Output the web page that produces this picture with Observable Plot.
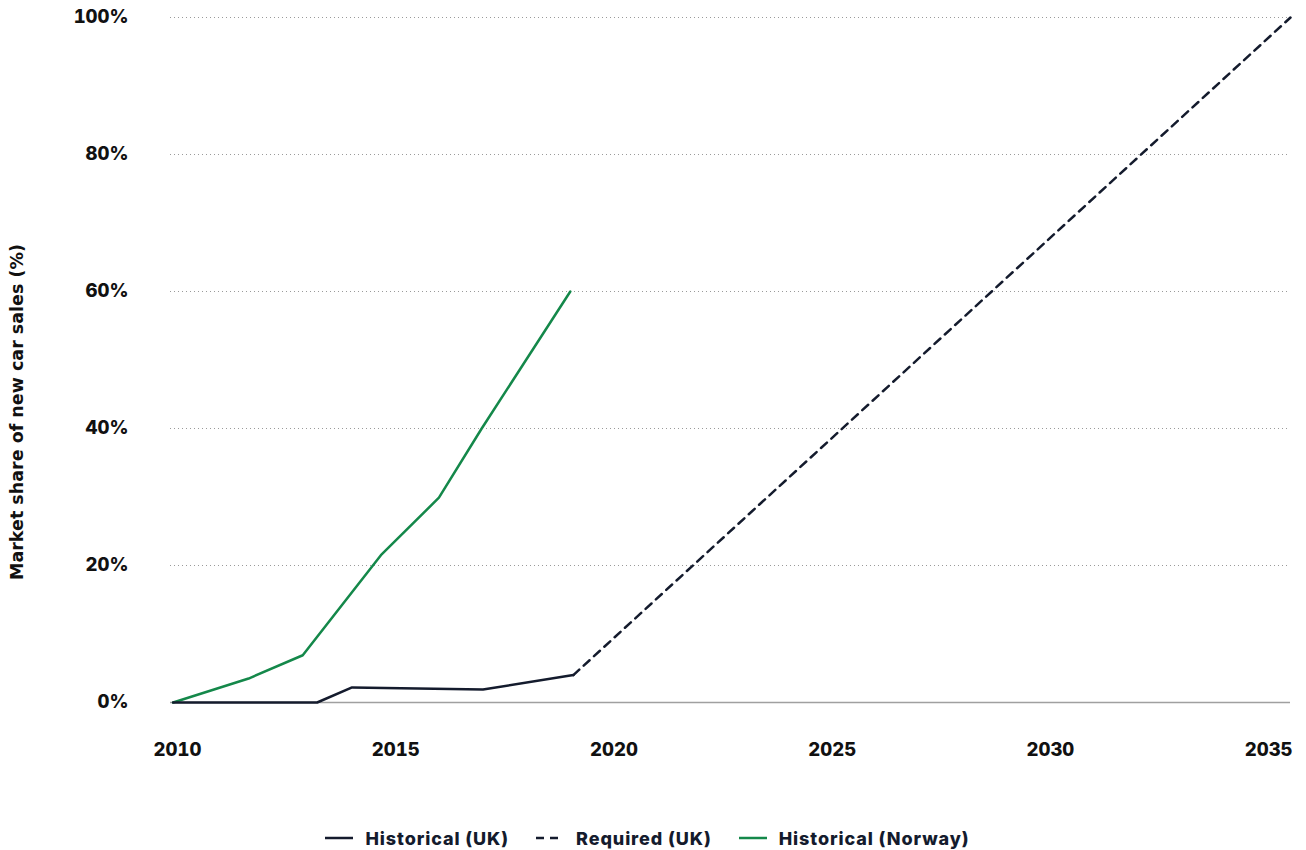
<!DOCTYPE html>
<html>
<head>
<meta charset="utf-8">
<script src="https://cdn.jsdelivr.net/npm/d3@7"></script>
<script src="https://cdn.jsdelivr.net/npm/@observablehq/plot@0.6"></script>
<style>
  html, body { margin: 0; padding: 0; background: #fff; }
  #chart { width: 1306px; }
  .legend { display: flex; justify-content: center; align-items: center; font-family: Inter, "Noto Sans", sans-serif; font-weight: 800; font-size: 18px; letter-spacing: 0.9px; color: #141b2d; height: 76px; margin-left: -12px; }
  .legend .item { display: flex; align-items: center; margin: 0 13px; }
  .legend svg { margin-right: 11px; }
</style>
</head>
<body>
<div id="chart"></div>
<script>
// Data (decimal years, percent of new car sales)
const ukYears = [2009.9, 2013.2, 2014.0, 2017.0, 2019.07];
const ukValues = [0, 0, 2.2, 1.9, 4.0];
const requiredYears = [2019.07, 2035.5];
const requiredValues = [4.0, 100];
const norwayYears = [2009.9, 2011.63, 2012.87, 2014.66, 2015.99, 2016.97, 2019.0];
const norwayValues = [0, 3.5, 6.9, 21.5, 29.9, 40, 60];
const xTicks = [2010, 2015, 2020, 2025, 2030, 2035];
const yTicks = [0, 20, 40, 60, 80, 100];
const seriesNames = ["Historical (UK)", "Required (UK)", "Historical (Norway)"];
const yLabel = "Market share of new car sales (%)";

const navy = "#141b2d";
const green = "#14884a";

const uk = ukYears.map((x, i) => ({x, y: ukValues[i]}));
const req = requiredYears.map((x, i) => ({x, y: requiredValues[i]}));
const nor = norwayYears.map((x, i) => ({x, y: norwayValues[i]}));

const plot = Plot.plot({
  width: 1306,
  height: 800,
  marginLeft: 170,
  marginRight: 16,
  marginTop: 17,
  marginBottom: 98,
  style: { fontFamily: "Inter, sans-serif", background: "#fff" },
  x: { domain: [2009.84, 2035.5], ticks: xTicks, tickFormat: d => String(d), label: null },
  y: { domain: [0, 100], ticks: yTicks, tickFormat: d => d + "%", label: null },
  marks: [
    Plot.gridY(yTicks.filter(d => d > 0), { stroke: "#9a9a9a", strokeOpacity: 1, strokeDasharray: "1,3", strokeWidth: 1 }),
    Plot.ruleY([0], { stroke: "#a0a0a0", strokeWidth: 1.5 }),
    Plot.axisX({ ticks: xTicks, tickSize: 0, tickPadding: 40, fontSize: 18.5, fontWeight: 800, fill: "#111", tickFormat: d => String(d) }),
    Plot.axisY({ ticks: yTicks, tickSize: 0, tickPadding: 42, fontSize: 18.5, fontWeight: 800, fill: "#111", tickFormat: d => d + "%" }),
    Plot.line(nor, { x: "x", y: "y", stroke: green, strokeWidth: 2.5 }),
    Plot.line(req, { x: "x", y: "y", stroke: navy, strokeWidth: 2.5, strokeDasharray: "8,6" }),
    Plot.line(uk, { x: "x", y: "y", stroke: navy, strokeWidth: 2.5 }),
    Plot.text([yLabel], { frameAnchor: "left", rotate: -90, dx: -153, dy: 52, fontSize: 17.5, fontWeight: 700, fill: "#111", fontFamily: "DejaVu Sans, sans-serif", textAnchor: "middle" })
  ]
});
document.getElementById("chart").appendChild(plot);

// Legend
const legend = document.createElement("div");
legend.className = "legend";
const styles = [
  { stroke: navy, dash: null },
  { stroke: navy, dash: "8,6" },
  { stroke: green, dash: null }
];
seriesNames.forEach((name, i) => {
  const item = document.createElement("div");
  item.className = "item";
  const s = styles[i];
  item.innerHTML = `<svg width="30" height="10"><line x1="1" y1="5" x2="29" y2="5" stroke="${s.stroke}" stroke-width="2.5"${s.dash ? ` stroke-dasharray="${s.dash}"` : ""}/></svg><span>${name}</span>`;
  legend.appendChild(item);
});
document.getElementById("chart").appendChild(legend);
</script>
</body>
</html>
